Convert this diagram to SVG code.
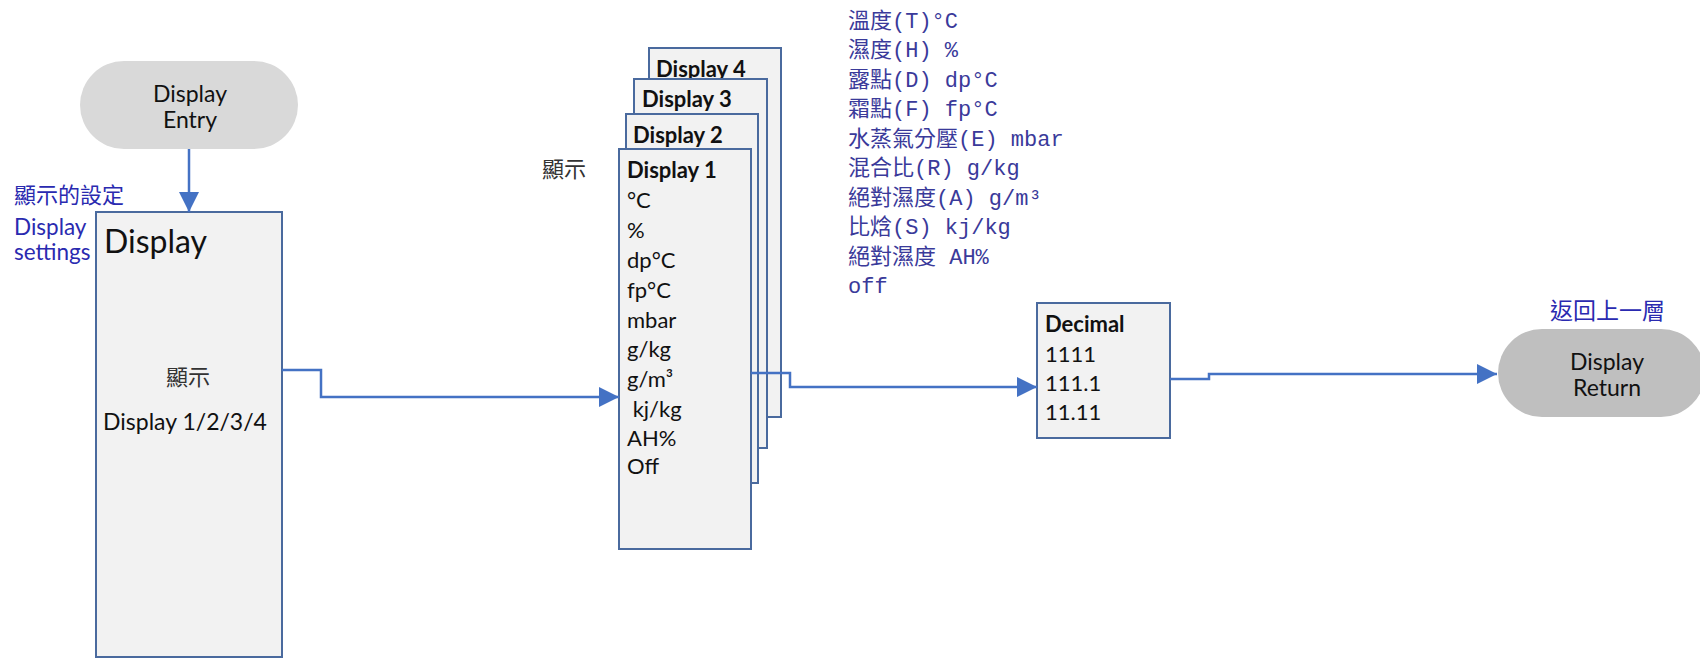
<svg xmlns="http://www.w3.org/2000/svg" width="1700" height="659" viewBox="0 0 1700 659">
<style>
.bg{fill:#ffffff}
.box{fill:#f2f2f2;stroke:#4a6a9e;stroke-width:2}
.pill{fill:#d9d9d9;stroke:none}
.pill2{fill:#bfbfbf;stroke:none}
.t{font-family:Lato,"Open Sans","Noto Sans CJK TC",sans-serif;fill:#111111}
.b{font-weight:bold}
.cjk{font-family:"Noto Sans CJK TC",sans-serif;fill:#333333}
.blue{font-family:Lato,"Noto Sans CJK TC",sans-serif;fill:#2a2ab0}
.list{font-family:"Liberation Mono","Noto Sans CJK TC",monospace;fill:#3a3a9a;font-size:22px}
.conn{fill:none;stroke:#4472c4;stroke-width:2.5}
</style>
<defs>
<marker id="arrow" viewBox="0 0 20 20" refX="20" refY="10" markerWidth="20" markerHeight="20" markerUnits="userSpaceOnUse" orient="auto">
<path d="M0,0 L20,10 L0,20 Z" fill="#4472c4"/>
</marker>
</defs>
<rect class="bg" x="0" y="0" width="1700" height="659"/>

<g id="entry">
<rect class="pill" x="80" y="61" width="218" height="88" rx="44" ry="44"/>
<text class="t" x="190" y="102" font-size="23" text-anchor="middle">Display</text>
<text class="t" x="190" y="128" font-size="23" text-anchor="middle">Entry</text>
</g>

<g id="display-settings-label">
<text class="blue" x="14" y="203" font-size="22">顯示的設定</text>
<text class="blue" x="14" y="235" font-size="22.5">Display</text>
<text class="blue" x="14" y="260" font-size="22.5">settings</text>
</g>

<g id="display">
<rect class="box" x="96" y="212" width="186" height="445"/>
<text class="t" x="104" y="253" font-size="32">Display</text>
<text class="cjk" x="188" y="385" font-size="22" text-anchor="middle">顯示</text>
<text class="t" x="103" y="430" font-size="23">Display 1/2/3/4</text>
</g>

<g id="display-label">
<text class="cjk" x="542" y="177" font-size="22">顯示</text>
</g>

<g id="display4">
<rect class="box" x="649" y="48" width="132" height="369"/>
<text class="t b" x="656" y="77" font-size="22">Display 4</text>
</g>
<g id="display3">
<rect class="box" x="634" y="79" width="133" height="369"/>
<text class="t b" x="642" y="107" font-size="22">Display 3</text>
</g>
<g id="display2">
<rect class="box" x="626" y="114" width="132" height="369"/>
<text class="t b" x="633" y="143" font-size="22">Display 2</text>
</g>
<g id="display1">
<rect class="box" x="619" y="149" width="132" height="400"/>
<g class="t" font-size="22">
<text class="b" x="627" y="178">Display 1</text>
<text x="627" y="208">°C</text>
<text x="627" y="238">%</text>
<text x="627" y="268">dp°C</text>
<text x="627" y="298">fp°C</text>
<text x="627" y="328">mbar</text>
<text x="627" y="357">g/kg</text>
<text x="627" y="387">g/m³</text>
<text x="627" y="417" xml:space="preserve"> kj/kg</text>
<text x="627" y="446">AH%</text>
<text x="627" y="474">Off</text>
</g>
</g>

<g id="units-list" class="list">
<text x="848" y="28">溫度(T)°C</text>
<text x="848" y="57">濕度(H) %</text>
<text x="848" y="87">露點(D) dp°C</text>
<text x="848" y="116">霜點(F) fp°C</text>
<text x="848" y="146">水蒸氣分壓(E) mbar</text>
<text x="848" y="175">混合比(R) g/kg</text>
<text x="848" y="205">絕對濕度(A) g/m³</text>
<text x="848" y="234">比焓(S) kj/kg</text>
<text x="848" y="264">絕對濕度 AH%</text>
<text x="848" y="293">off</text>
</g>

<g id="decimal">
<rect class="box" x="1037" y="303" width="133" height="135"/>
<g class="t" font-size="22">
<text class="b" x="1045" y="332">Decimal</text>
<text x="1045" y="362">1111</text>
<text x="1045" y="391">111.1</text>
<text x="1045" y="420">11.11</text>
</g>
</g>

<g id="return">
<text class="blue" x="1550" y="319" font-size="23">返回上一層</text>
<rect class="pill2" x="1498" y="329" width="207" height="88" rx="44" ry="44"/>
<text class="t" x="1607" y="370" font-size="23" text-anchor="middle">Display</text>
<text class="t" x="1607" y="396" font-size="23" text-anchor="middle">Return</text>
</g>

<g id="connectors">
<path class="conn" d="M189,149 V212" marker-end="url(#arrow)"/>
<path class="conn" d="M282,370 H321 V397 H619" marker-end="url(#arrow)"/>
<path class="conn" d="M751,373 H790 V387 H1037" marker-end="url(#arrow)"/>
<path class="conn" d="M1170,379 H1209 V374 H1497" marker-end="url(#arrow)"/>
</g>
</svg>
